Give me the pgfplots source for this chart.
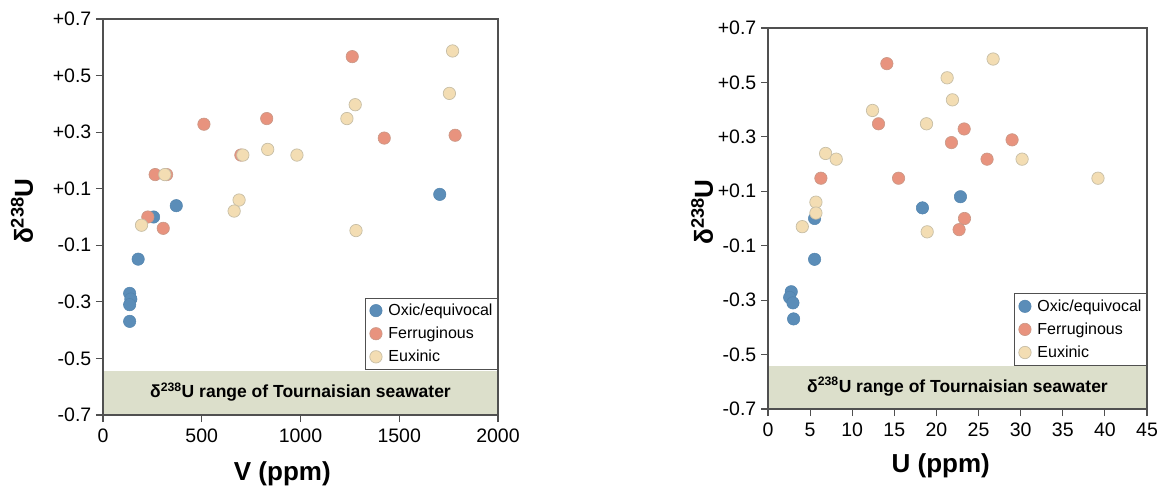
\documentclass[border=0pt]{standalone}
\usepackage{pgfplots}
\pgfplotsset{compat=1.18}
\usepackage{fontspec}
\setmainfont{Liberation Sans}
\definecolor{oxic}{HTML}{5B8DB8}
\definecolor{oxicE}{HTML}{5284AE}
\definecolor{ferr}{HTML}{E8937E}
\definecolor{ferrE}{HTML}{C99887}
\definecolor{eux}{HTML}{F3DDB3}
\definecolor{euxE}{HTML}{C7BEA6}
\definecolor{band}{HTML}{DCDFCB}
\definecolor{axgray}{HTML}{505050}
\pgfplotsset{
  myax/.style={
    scale only axis, anchor=south west,
    ymin=-0.7, ymax=0.7,
    ytick={-0.7,-0.5,-0.3,-0.1,0.1,0.3,0.5,0.7},
    yticklabels={-0.7,-0.5,-0.3,-0.1,+0.1,+0.3,+0.5,+0.7},
    tick align=outside, tick pos=left, major tick length=7pt,
    axis line style={axgray, line width=1.2pt},
    every tick/.style={axgray, line width=1.2pt},
    ticklabel style={font=\fontsize{19.5}{21}\selectfont, text=black},
    yticklabel style={inner sep=4.5pt},
    xticklabel style={inner sep=6.5pt},
    axis on top,
    clip=false,
    legend style={at={(axis description cs:1,0.114)}, anchor=south east,
      draw=axgray, line width=1pt, font=\fontsize{16}{19}\selectfont,
      inner xsep=3pt, inner ysep=4pt, row sep=6pt,
      cells={anchor=west}},
    legend image code/.code={\path (0pt,0pt) (17pt,0pt); \draw[#1] plot coordinates {(7pt,0pt)};},
    xlabel style={font=\fontsize{26}{30}\selectfont\bfseries, anchor=center},
    ylabel style={font=\fontsize{26}{30}\selectfont\bfseries, anchor=center},
  },
  mO/.style={only marks, mark=*, mark size=6.2pt, mark options={fill=oxic, draw=oxicE, line width=0.5pt}},
  mF/.style={only marks, mark=*, mark size=6.2pt, mark options={fill=ferr, draw=ferrE, line width=0.6pt}},
  mE/.style={only marks, mark=*, mark size=6.2pt, mark options={fill=eux, draw=euxE, line width=0.7pt}},
}
\begin{document}
\begin{tikzpicture}
\useasboundingbox (0,0) rectangle (1165pt,493pt);
% Left panel
\begin{axis}[myax, at={(103pt,78pt)}, width=395pt, height=396pt,
  xmin=0, xmax=2000, xtick={0,500,1000,1500,2000},
  xticklabels={0,500,1000,1500,2000},
  xlabel={V (ppm)},
  xlabel style={at={(axis description cs:0.454,-0.148)}},
  ylabel={δ\textsuperscript{238}U},
  ylabel style={at={(axis description cs:-0.205,0.515)}},
]
\addplot[draw=none, fill=band, forget plot] coordinates {(0,-0.7) (0,-0.543) (2000,-0.543) (2000,-0.7)};
\node[font=\fontsize{17.5}{19}\selectfont\bfseries] at (axis cs:1000,-0.62) {δ\textsuperscript{238}U range of Tournaisian seawater};
\addplot[mO] coordinates {(135,-0.270) (141,-0.290) (135,-0.310) (135,-0.369) (178,-0.149) (256,0.000) (371,0.040) (1705,0.080)};
\addplot[mF] coordinates {(1262,0.567) (829,0.348) (511,0.328) (1424,0.279) (1783,0.289) (698,0.219) (264,0.150) (322,0.150) (227,0.000) (305,-0.040)};
\addplot[mE] coordinates {(1770,0.587) (1754,0.437) (1277,0.397) (1235,0.348) (708,0.219) (834,0.239) (982,0.219) (313,0.150) (689,0.060) (664,0.021) (195,-0.029) (1281,-0.048)};
\legend{Oxic/equivocal, Ferruginous, Euxinic}
\end{axis}
% Right panel
\begin{axis}[myax, at={(768pt,84pt)}, width=379pt, height=381pt,
  xmin=0, xmax=45, xtick={0,5,10,15,20,25,30,35,40,45},
  xticklabels={0,5,10,15,20,25,30,35,40,45},
  xlabel={U (ppm)},
  xlabel style={at={(axis description cs:0.456,-0.150)}},
  ylabel={δ\textsuperscript{238}U},
  ylabel style={at={(axis description cs:-0.174,0.517)}},
]
\addplot[draw=none, fill=band, forget plot] coordinates {(0,-0.7) (0,-0.542) (45,-0.542) (45,-0.7)};
\node[font=\fontsize{17.5}{19}\selectfont\bfseries] at (axis cs:22.5,-0.618) {δ\textsuperscript{238}U range of Tournaisian seawater};
\addplot[mO] coordinates {(2.76,-0.269) (2.57,-0.290) (2.96,-0.310) (3.04,-0.369) (5.53,-0.150) (5.53,0.000) (18.34,0.039) (22.85,0.080)};
\addplot[mF] coordinates {(14.11,0.569) (13.12,0.348) (23.29,0.329) (21.78,0.279) (28.98,0.289) (26.01,0.218) (6.28,0.148) (15.50,0.148) (23.33,0.000) (22.69,-0.041)};
\addplot[mE] coordinates {(26.73,0.586) (21.27,0.517) (21.90,0.436) (12.41,0.397) (18.82,0.348) (6.84,0.239) (8.10,0.218) (30.17,0.218) (39.18,0.148) (5.69,0.060) (5.69,0.020) (4.07,-0.030) (18.90,-0.049)};
\legend{Oxic/equivocal, Ferruginous, Euxinic}
\end{axis}
\end{tikzpicture}
\end{document}
